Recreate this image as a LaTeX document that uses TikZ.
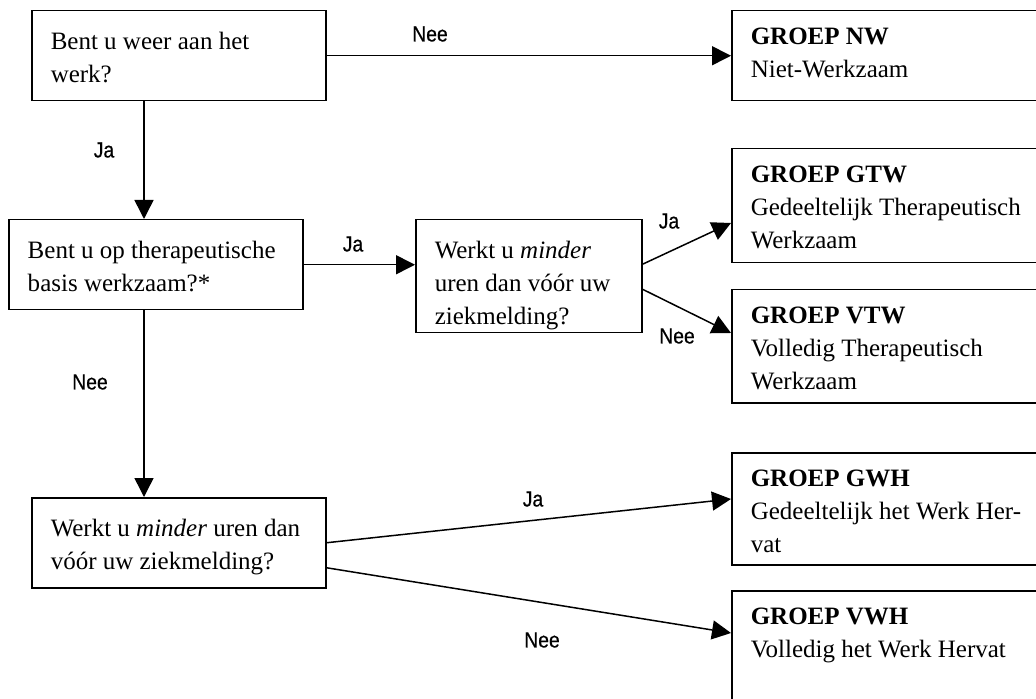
\documentclass[tikz,border=0pt]{standalone}
\usepackage{fontspec}
\setmainfont{Liberation Serif}
\newfontfamily\labelfont[FakeStretch=0.88, FakeBold=0.6]{Liberation Sans}
\usetikzlibrary{arrows.meta}
% tekst bovenaan in een vak van vaste hoogte
\newcommand{\vak}[4][10.5pt]{\parbox[c][#3][t]{#2}{\vspace*{#1}\raggedright #4}}

\begin{document}
\begin{tikzpicture}[
    x=0.5pt, y=-0.5pt,
    vak/.style={draw, line width=0.75pt, anchor=north west, inner xsep=9.5pt, inner ysep=0pt, font=\fontsize{12.5}{16.5}\selectfont},
    pijl/.style={draw, line width=0.75pt, -{Triangle[length=9.5pt, width=9.5pt]}},
    lbl/.style={font=\labelfont\fontsize{11}{13}\selectfont, inner sep=0pt}
  ]
    \useasboundingbox (0,0) rectangle (1036,699);

    % Vragen (links en midden)
    \node[vak] (q1) at (31,10)  {\vak{128pt}{45pt}{Bent u weer aan het\\ werk?}};
    \node[vak] (q2) at (8,219)  {\vak{128pt}{45pt}{Bent u op therapeutische\\ basis werkzaam?*}};
    \node[vak] (q3) at (415,219) {\vak{94pt}{56.5pt}{Werkt u \textit{minder}\\ uren dan vóór uw\\ ziekmelding?}};
    \node[vak] (q4) at (31,497) {\vak{128pt}{45pt}{Werkt u \textit{minder} uren dan\\ vóór uw ziekmelding?}};

    % Groepen (rechts, lopen door tot buiten de rand)
    \node[vak] (nw)  at (731,10)  {\vak[8.5pt]{145.5pt}{45pt}{\textbf{GROEP NW}\\ Niet-Werkzaam}};
    \node[vak] (gtw) at (731,148) {\vak[8.5pt]{145.5pt}{57pt}{\textbf{GROEP GTW}\\ Gedeeltelijk Therapeutisch\\ Werkzaam}};
    \node[vak] (vtw) at (731,289) {\vak[8.5pt]{145.5pt}{56.5pt}{\textbf{GROEP VTW}\\ Volledig Therapeutisch\\ Werkzaam}};
    \node[vak] (gwh) at (731,452) {\vak[8.5pt]{145.5pt}{56pt}{\textbf{GROEP GWH}\\ Gedeeltelijk het Werk Her-\\ vat}};
    \node[vak] (vwh) at (731,590) {\vak[8.5pt]{145.5pt}{65pt}{\textbf{GROEP VWH}\\ Volledig het Werk Hervat}};

    % Pijlen
    \draw[pijl] (q1.east) -- (nw.west);
    \draw[pijl] ([xshift=56.5pt]q1.south west) -- ([xshift=68pt]q2.north west);
    \draw[pijl] (q2.east) -- (q2.east -| q3.west);
    \draw[pijl] ([xshift=68pt]q2.south west) -- ([xshift=56.5pt]q4.north west);
    \draw[pijl] ([yshift=6pt]q3.east) -- ([yshift=-37.5pt]gtw.north west);
    \draw[pijl] ([yshift=-6.5pt]q3.east) -- ([yshift=-22pt]vtw.north west);
    \draw[pijl] (q4.east) -- ([yshift=-23.5pt]gwh.north west);
    \draw[pijl] ([yshift=-12.5pt]q4.east) -- ([yshift=-21.5pt]vwh.north west);

    % Antwoorden
    \node[lbl] (nee1) at (430,34)  {Nee};
    \node[lbl] (ja1)  at (104,150) {Ja};
    \node[lbl] (ja2)  at (353,244) {Ja};
    \node[lbl] (ja3)  at (669,221) {Ja};
    \node[lbl] (nee3) at (677,336) {Nee};
    \node[lbl] (nee2) at (90,382)  {Nee};
    \node[lbl] (ja4)  at (533,499) {Ja};
    \node[lbl] (nee4) at (542,640) {Nee};
  \end{tikzpicture}
\end{document}
